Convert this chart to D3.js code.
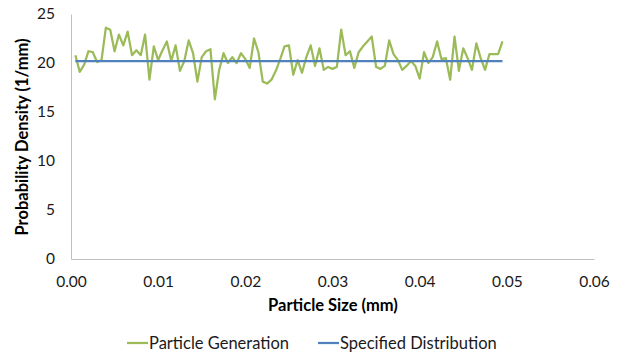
<!DOCTYPE html>
<html><head><meta charset="utf-8">
<script src="https://cdn.jsdelivr.net/npm/d3@7"></script>
<style>body{margin:0;background:#fff}svg{display:block}</style>
</head><body><svg id="c" width="618" height="359"></svg>
<script>
const xStart = 0.0005, xStep = 0.0005;
const generation = [20.8,19.1,19.8,21.2,21.1,20.1,20.3,23.6,23.4,21.2,22.9,21.8,23.2,20.8,21.3,20.8,22.9,18.3,21.7,20.3,
21.3,22.2,20.2,21.8,19.2,20.2,22.3,21.0,18.1,20.6,21.2,21.4,16.3,19.3,21.0,20.0,20.6,20.0,21.0,20.4,
19.5,22.5,21.1,18.1,17.9,18.3,19.2,20.4,21.7,21.8,18.8,20.3,19.0,20.6,21.8,19.7,21.5,19.3,19.6,19.4,
19.6,23.4,20.8,21.2,19.5,21.1,21.7,22.2,22.7,19.6,19.4,19.7,22.3,20.9,20.3,19.3,19.7,20.2,19.7,18.4,
21.1,20.0,20.6,22.2,20.4,20.5,18.3,22.7,19.2,21.5,20.5,19.3,22.0,20.5,19.3,20.9,20.9,20.9,22.2];
const specified = generation.map(() => 20.2);
const sizes = generation.map((_, i) => xStart + i * xStep);
const xTicks = [0, 0.01, 0.02, 0.03, 0.04, 0.05, 0.06];
const yTicks = [0, 5, 10, 15, 20, 25];
const seriesNames = ["Particle Generation", "Specified Distribution"];
const colors = ["#9BBB59", "#4F81BD"];

const svg = d3.select("#c");
const font = "Lato, 'Open Sans', sans-serif";
const x = d3.scaleLinear().domain([0, 0.06]).range([71, 594]);
const y = d3.scaleLinear().domain([0, 25]).range([259, 14]);

// axes
const xAxis = svg.append("g").attr("transform", `translate(0,${y(0)})`)
  .call(d3.axisBottom(x).tickValues(xTicks).tickFormat(d3.format(".2f")).tickSize(0).tickPadding(17));
const yAxis = svg.append("g").attr("transform", `translate(${x(0)},0)`)
  .call(d3.axisLeft(y).tickValues(yTicks).tickSize(0).tickPadding(16));
[xAxis, yAxis].forEach(g => {
  g.select(".domain").attr("stroke", "#BFBFBF").attr("stroke-width", 1);
  g.selectAll("text").attr("font-family", font).attr("font-size", 15.5).attr("fill", "#1a1a1a");
});

const line = d3.line().x((d, i) => x(sizes[i])).y(d => y(d));
svg.append("path").datum(generation).attr("d", line)
  .attr("fill", "none").attr("stroke", colors[0]).attr("stroke-width", 2.25).attr("stroke-linejoin", "round");
svg.append("path").datum(specified).attr("d", line)
  .attr("fill", "none").attr("stroke", colors[1]).attr("stroke-width", 2.25);

svg.append("text").attr("x", 333).attr("y", 311).attr("text-anchor", "middle")
  .attr("font-family", font).attr("font-size", 16.5).attr("font-weight", "bold").text("Particle Size (mm)");
svg.append("text").attr("transform", "translate(28,137) rotate(-90)").attr("text-anchor", "middle")
  .attr("font-family", font).attr("font-size", 16.5).attr("font-weight", "bold").text("Probability Density (1/mm)");

// legend
const legendX = [127, 318];
seriesNames.forEach((n, i) => {
  const g = svg.append("g").attr("transform", `translate(${legendX[i]},343)`);
  g.append("line").attr("x1", 0).attr("x2", 21).attr("y1", 0).attr("y2", 0)
    .attr("stroke", colors[i]).attr("stroke-width", 2.25);
  g.append("text").attr("x", 22).attr("y", 5.5).attr("font-family", font).attr("font-size", 16.5)
    .attr("fill", "#1a1a1a").text(n);
});
</script></body></html>
